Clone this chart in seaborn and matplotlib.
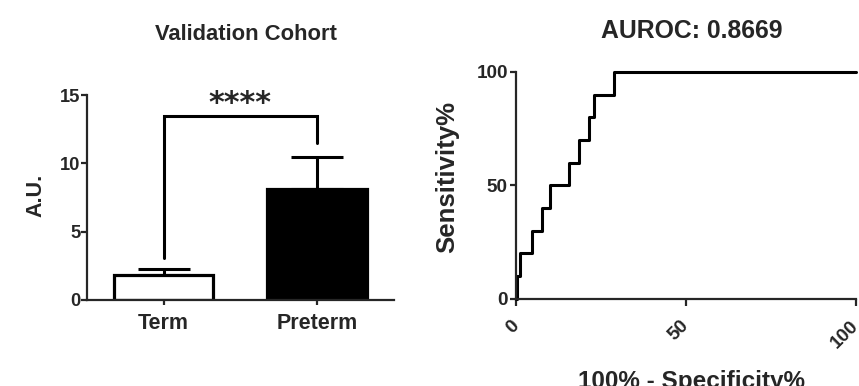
import matplotlib
matplotlib.use("Agg")
import matplotlib.pyplot as plt
import seaborn as sns
import numpy as np
import pandas as pd

# ---- data ----
groups = ["Term", "Preterm"]
means = [1.83, 8.1]
errs = [0.46, 2.38]
bar_colors = ["white", "black"]
sig_label = "****"
bracket_y = 13.5
bracket_legs = [3.05, 11.5]
star_y = 13.75

fpr = [0, 0.3, 1.2, 4.8, 7.7, 10, 15.7, 18.5, 21.5, 23, 28.8, 100]
tpr = [0, 10, 20, 30, 40, 50, 60, 70, 80, 90, 100, 100]
auroc = 0.8669

sns.set_theme(style="ticks")
plt.rcParams["font.family"] = ["Liberation Sans", "DejaVu Sans"]
plt.rcParams["font.weight"] = "bold"
plt.rcParams["axes.linewidth"] = 1.6

W, H = 859, 386
fig = plt.figure(figsize=(W / 100, H / 100), dpi=100)

# ---- left: bar chart ----
ax1 = fig.add_axes([86.7 / W, 1 - 300 / H, (394 - 86.7) / W, 205 / H])
df = pd.DataFrame({"group": groups, "mean": means, "err": errs})
sns.barplot(data=df, x="group", y="mean", hue="group", palette=bar_colors,
            width=0.65, edgecolor="black", linewidth=2.3, errorbar=None,
            legend=False, ax=ax1, zorder=2)
ax1.errorbar(range(len(groups)), means, yerr=[np.zeros(len(errs)), errs],
             fmt="none", ecolor="black", elinewidth=2.2, capsize=18.7,
             capthick=2.2, zorder=1)
ax1.set_xlim(-0.5, 1.5)
ax1.set_ylim(0, 15)
ax1.set_yticks([0, 5, 10, 15])
ax1.set_xlabel("")
ax1.set_ylabel("A.U.", fontsize=15.5, fontweight="bold")
ax1.yaxis.set_label_coords(-0.13, 0.512)
sns.despine(ax=ax1)
ax1.tick_params(axis="y", length=4, width=1.6, pad=0.5, labelsize=13.2)
ax1.tick_params(axis="x", length=3.6, width=1.6, pad=5.5, labelsize=15.5)
for lab in ax1.get_xticklabels() + ax1.get_yticklabels():
    lab.set_fontweight("bold")
# significance bracket
ax1.plot([0, 0, 1, 1], [bracket_legs[0], bracket_y, bracket_y, bracket_legs[1]],
         color="black", lw=2.2, solid_joinstyle="miter", clip_on=False)
ax1.text(0.5, star_y, sig_label, ha="center", va="baseline", fontsize=21.8,
         fontweight="bold", family="DejaVu Sans", clip_on=False)
fig.text(246 / W, 1 - 40 / H, "Validation Cohort", ha="center", va="baseline",
         fontsize=15.8, fontweight="bold")

# ---- right: ROC curve ----
ax2 = fig.add_axes([516 / W, 1 - 298.5 / H, 340 / W, 226.5 / H])
roc = pd.DataFrame({"fpr": fpr, "tpr": tpr})
sns.lineplot(data=roc, x="fpr", y="tpr", sort=False, estimator=None,
             drawstyle="steps-post", color="black", lw=2.2, ax=ax2,
             clip_on=False)
ax2.set_xlim(0, 100)
ax2.set_ylim(0, 100)
ax2.set_xticks([0, 50, 100])
ax2.set_yticks([0, 50, 100])
sns.despine(ax=ax2)
ax2.tick_params(axis="y", length=4.3, width=1.6, pad=1.5, labelsize=13.6)
ax2.tick_params(axis="x", length=4.8, width=1.6, pad=13, labelsize=13.6)
for lab in ax2.get_yticklabels():
    lab.set_fontweight("bold")
for lab in ax2.get_xticklabels():
    lab.set_fontweight("bold")
    lab.set_rotation(45)
    lab.set_ha("right")
    lab.set_va("center")
    lab.set_rotation_mode("anchor")
ax2.set_ylabel("Sensitivity%", fontsize=18.5, fontweight="bold")
ax2.yaxis.set_label_coords(-0.168, 0.535)
ax2.set_xlabel("100% - Specificity%", fontsize=17.5, fontweight="bold")
ax2.xaxis.set_label_coords(0.515, -0.315)
ax2.xaxis.label.set_va("top")
fig.text(692 / W, 1 - 37.7 / H, f"AUROC: {auroc}", ha="center", va="baseline",
         fontsize=17.8, fontweight="bold")

fig.savefig("out.png", dpi=100)
